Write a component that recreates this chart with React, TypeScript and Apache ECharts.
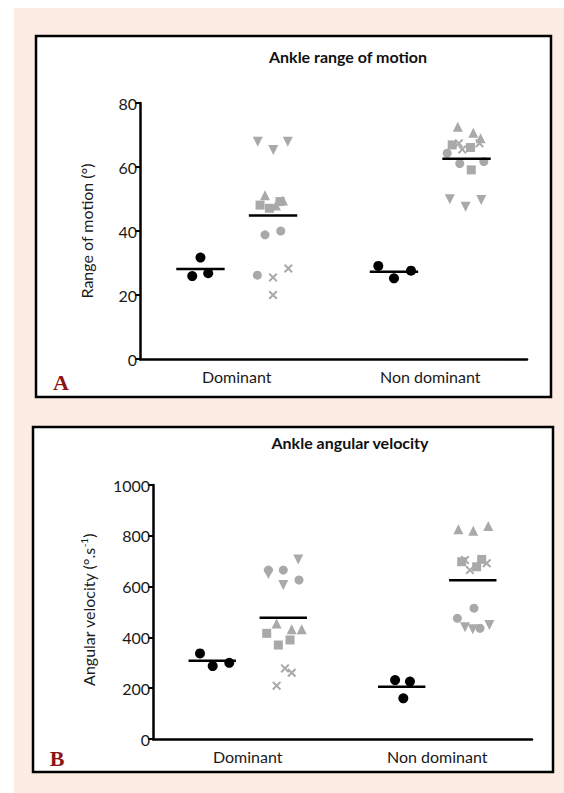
import React, { useEffect, useRef } from "react";
import * as echarts from "echarts";

// ---------- data ----------
const categories = ["Dominant", "Non dominant"];
const romAxis = { min: 0, max: 80, interval: 20 };
const velAxis = { min: 0, max: 1000, interval: 200 };

// Panel A: Ankle range of motion (deg)
const romControlDom = [31.7, 25.9, 26.8];
const romControlDomJitter = [0.0, -0.085, 0.08];
const romControlNonDom = [29.1, 25.2, 27.6];
const romControlNonDomJitter = [-0.162, 0.0, 0.176];

const romDownDom = [67.9, 65.3, 67.9];
const romDownDomJitter = [-0.158, 0.003, 0.152];
const romUpDom = [51.2, 49.5, 48.0];
const romUpDomJitter = [-0.083, 0.103, 0.03];
const romSquareDom = [48.1, 47.1, 49.2];
const romSquareDomJitter = [-0.134, -0.038, 0.072];
const romCircleDom = [38.8, 40.0, 26.2];
const romCircleDomJitter = [-0.083, 0.08, -0.162];
const romCrossDom = [25.5, 28.3, 20.0];
const romCrossDomJitter = [0.0, 0.158, 0.0];

const romDownNonDom = [49.9, 47.6, 49.7];
const romDownNonDomJitter = [-0.173, -0.01, 0.152];
const romUpNonDom = [72.6, 70.7, 69.0];
const romUpNonDomJitter = [-0.09, 0.07, 0.145];
const romSquareNonDom = [66.9, 66.1, 59.1];
const romSquareNonDomJitter = [-0.148, 0.041, 0.049];
const romCircleNonDom = [64.3, 61.1, 61.7];
const romCircleNonDomJitter = [-0.2, -0.07, 0.179];
const romCrossNonDom = [67.4, 67.4, 65.5];
const romCrossNonDomJitter = [-0.08, 0.134, -0.044];

// Panel B: Ankle angular velocity (deg/s)
const velControlDom = [337, 287, 300];
const velControlDomJitter = [-0.129, 0.005, 0.18];
const velControlNonDom = [232, 226, 160];
const velControlNonDomJitter = [-0.07, 0.087, 0.017];

const velDownDom = [707, 606, 650];
const velDownDomJitter = [0.158, 0.0, -0.157];
const velUpDom = [455, 432, 432];
const velUpDomJitter = [-0.07, 0.089, 0.194];
const velSquareDom = [416, 370, 390];
const velSquareDomJitter = [-0.175, -0.052, 0.071];
const velCircleDom = [665, 665, 626];
const velCircleDomJitter = [-0.157, 0.0, 0.166];
const velCrossDom = [278, 261, 210];
const velCrossDomJitter = [0.018, 0.089, -0.07];

const velDownNonDom = [440, 432, 449];
const velDownNonDomJitter = [-0.082, 0.0, 0.175];
const velUpNonDom = [826, 820, 839];
const velUpNonDomJitter = [-0.152, 0.005, 0.163];
const velSquareNonDom = [698, 707, 678];
const velSquareNonDomJitter = [-0.117, 0.094, 0.041];
const velCircleNonDom = [515, 475, 436];
const velCircleNonDomJitter = [0.013, -0.163, 0.076];
const velCrossNonDom = [705, 665, 692];
const velCrossNonDomJitter = [-0.082, -0.03, 0.147];

// ---------- styling ----------
const FONT = "Lato, 'Open Sans', sans-serif";
const GRAY = "#a9a9a9";
const TEXT = "#1a1a1a";
const CROSS =
  "path://M0,1.6L1.6,0L5,3.4L8.4,0L10,1.6L6.6,5L10,8.4L8.4,10L5,6.6L1.6,10L0,8.4L3.4,5Z";
const GROUP_OFFSET = 0.375;
const MEAN_HALF = 0.25;

type Shape = { symbol: string; rotate: number; size: number };
const SHAPES: Record<string, Shape> = {
  down: { symbol: "triangle", rotate: 180, size: 10 },
  up: { symbol: "triangle", rotate: 0, size: 10 },
  square: { symbol: "rect", rotate: 0, size: 9 },
  circle: { symbol: "circle", rotate: 0, size: 9 },
  cross: { symbol: CROSS, rotate: 0, size: 9 },
};

function scatter(
  xIdx: number,
  yIdx: number,
  center: number,
  values: number[],
  jitter: number[],
  shape: Shape,
  color: string
) {
  return {
    type: "scatter",
    xAxisIndex: xIdx,
    yAxisIndex: yIdx,
    symbol: shape.symbol,
    symbolRotate: shape.rotate,
    symbolSize: shape.size,
    itemStyle: { color, opacity: 1 },
    z: 3,
    silent: true,
    data: values.map((v, i) => [center + jitter[i], v]),
  };
}

function meanLine(xIdx: number, yIdx: number, center: number, groups: number[][]) {
  const all = groups.flat();
  const m = all.reduce((a, b) => a + b, 0) / all.length;
  return {
    type: "line",
    xAxisIndex: xIdx,
    yAxisIndex: yIdx,
    symbol: "none",
    silent: true,
    z: 5,
    lineStyle: { color: "#000", width: 2.5 },
    data: [
      [center - MEAN_HALF, m],
      [center + MEAN_HALF, m],
    ],
  };
}

function panelSeries(
  xIdx: number,
  yIdx: number,
  controlDom: number[],
  controlDomJ: number[],
  controlNonDom: number[],
  controlNonDomJ: number[],
  dom: Record<string, [number[], number[]]>,
  nonDom: Record<string, [number[], number[]]>
) {
  const cDom = 1 - GROUP_OFFSET;
  const pDom = 1 + GROUP_OFFSET;
  const cNon = 3 - GROUP_OFFSET;
  const pNon = 3 + GROUP_OFFSET;
  const dot = { symbol: "circle", rotate: 0, size: 10 };
  const out: any[] = [];
  out.push(scatter(xIdx, yIdx, cDom, controlDom, controlDomJ, dot, "#000"));
  out.push(scatter(xIdx, yIdx, cNon, controlNonDom, controlNonDomJ, dot, "#000"));
  Object.keys(dom).forEach((k) => out.push(scatter(xIdx, yIdx, pDom, dom[k][0], dom[k][1], SHAPES[k], GRAY)));
  Object.keys(nonDom).forEach((k) => out.push(scatter(xIdx, yIdx, pNon, nonDom[k][0], nonDom[k][1], SHAPES[k], GRAY)));
  out.push(meanLine(xIdx, yIdx, cDom, [controlDom]));
  out.push(meanLine(xIdx, yIdx, cNon, [controlNonDom]));
  out.push(meanLine(xIdx, yIdx, pDom, Object.keys(dom).map((k) => dom[k][0])));
  out.push(meanLine(xIdx, yIdx, pNon, Object.keys(nonDom).map((k) => nonDom[k][0])));
  return out;
}

function xAxes(gridIndex: number) {
  return [
    {
      type: "category",
      gridIndex,
      data: categories,
      boundaryGap: true,
      axisTick: { show: false },
      axisLine: { show: true, lineStyle: { color: "#000", width: 2.5 } },
      axisLabel: { color: TEXT, fontSize: 16, fontFamily: FONT, margin: 9 },
      splitLine: { show: false },
    },
    { type: "value", gridIndex, min: 0, max: 4, show: false },
  ];
}

function yAxis(gridIndex: number, range: { min: number; max: number; interval: number }) {
  return {
    type: "value",
    gridIndex,
    min: range.min,
    max: range.max,
    interval: range.interval,
    axisLine: { show: true, lineStyle: { color: "#000", width: 2.5 } },
    axisTick: { show: true, length: 5, lineStyle: { color: "#000", width: 2 } },
    splitLine: { show: false },
    axisLabel: {
      color: TEXT,
      fontSize: 16,
      fontFamily: FONT,
      margin: 3,
      formatter: (v: number) => String(v),
    },
  };
}

export default function App() {
  const ref = useRef<HTMLDivElement>(null);
  useEffect(() => {
    if (!ref.current) return;
    const chart = echarts.init(ref.current, null, { renderer: "svg" });
    const series = [
      ...panelSeries(
        1, 0,
        romControlDom, romControlDomJitter, romControlNonDom, romControlNonDomJitter,
        {
          down: [romDownDom, romDownDomJitter],
          up: [romUpDom, romUpDomJitter],
          square: [romSquareDom, romSquareDomJitter],
          circle: [romCircleDom, romCircleDomJitter],
          cross: [romCrossDom, romCrossDomJitter],
        },
        {
          down: [romDownNonDom, romDownNonDomJitter],
          up: [romUpNonDom, romUpNonDomJitter],
          square: [romSquareNonDom, romSquareNonDomJitter],
          circle: [romCircleNonDom, romCircleNonDomJitter],
          cross: [romCrossNonDom, romCrossNonDomJitter],
        }
      ),
      ...panelSeries(
        3, 1,
        velControlDom, velControlDomJitter, velControlNonDom, velControlNonDomJitter,
        {
          down: [velDownDom, velDownDomJitter],
          up: [velUpDom, velUpDomJitter],
          square: [velSquareDom, velSquareDomJitter],
          circle: [velCircleDom, velCircleDomJitter],
          cross: [velCrossDom, velCrossDomJitter],
        },
        {
          down: [velDownNonDom, velDownNonDomJitter],
          up: [velUpNonDom, velUpNonDomJitter],
          square: [velSquareNonDom, velSquareNonDomJitter],
          circle: [velCircleNonDom, velCircleNonDomJitter],
          cross: [velCrossNonDom, velCrossNonDomJitter],
        }
      ),
    ];

    chart.setOption({
      animation: false,
      backgroundColor: "#ffffff",
      grid: [
        { left: 140, top: 103, width: 387, height: 256 },
        { left: 153, top: 485, width: 379, height: 254 },
      ],
      xAxis: [...xAxes(0), ...xAxes(1)],
      yAxis: [yAxis(0, romAxis), yAxis(1, velAxis)],
      graphic: [
        { type: "rect", z: -20, silent: true, shape: { x: 14, y: 8, width: 550, height: 785 }, style: { fill: "#fcece3" } },
        { type: "rect", z: -10, silent: true, shape: { x: 36, y: 36, width: 515, height: 361 }, style: { fill: "#fff", stroke: "#000", lineWidth: 2.5 } },
        { type: "rect", z: -10, silent: true, shape: { x: 33, y: 427, width: 520, height: 345 }, style: { fill: "#fff", stroke: "#000", lineWidth: 2.5 } },
        { type: "text", x: 348, y: 56, style: { text: "Ankle range of motion", fontFamily: FONT, fontWeight: "bold", fontSize: 16, fill: "#111", align: "center", verticalAlign: "middle" } },
        { type: "text", x: 350, y: 442, style: { text: "Ankle angular velocity", fontFamily: FONT, fontWeight: "bold", fontSize: 16, fill: "#111", align: "center", verticalAlign: "middle" } },
        { type: "text", x: 86, y: 231, rotation: Math.PI / 2, style: { text: "Range of motion (°)", fontFamily: FONT, fontSize: 16, fill: TEXT, align: "center", verticalAlign: "middle" } },
        {
          type: "text", x: 88, y: 610, rotation: Math.PI / 2,
          style: {
            text: "{a|Angular velocity (°.s}{s|-1}{a|)}",
            align: "center", verticalAlign: "middle",
            rich: {
              a: { fontFamily: FONT, fontSize: 16, fill: TEXT },
              s: { fontFamily: FONT, fontSize: 10, fill: TEXT, verticalAlign: "top", padding: [0, 0, 9, 0] },
            },
          },
        },
        { type: "text", x: 61, y: 382, style: { text: "A", fontFamily: "'Liberation Serif', 'DejaVu Serif', serif", fontWeight: "bold", fontSize: 22, fill: "#8b1515", align: "center", verticalAlign: "middle" } },
        { type: "text", x: 57, y: 758, style: { text: "B", fontFamily: "'Liberation Serif', 'DejaVu Serif', serif", fontWeight: "bold", fontSize: 22, fill: "#8b1515", align: "center", verticalAlign: "middle" } },
      ],
      series,
    });
    return () => chart.dispose();
  }, []);
  return <div ref={ref} style={{ position: "absolute", left: 0, top: 0, width: 564, height: 793 }} />;
}
